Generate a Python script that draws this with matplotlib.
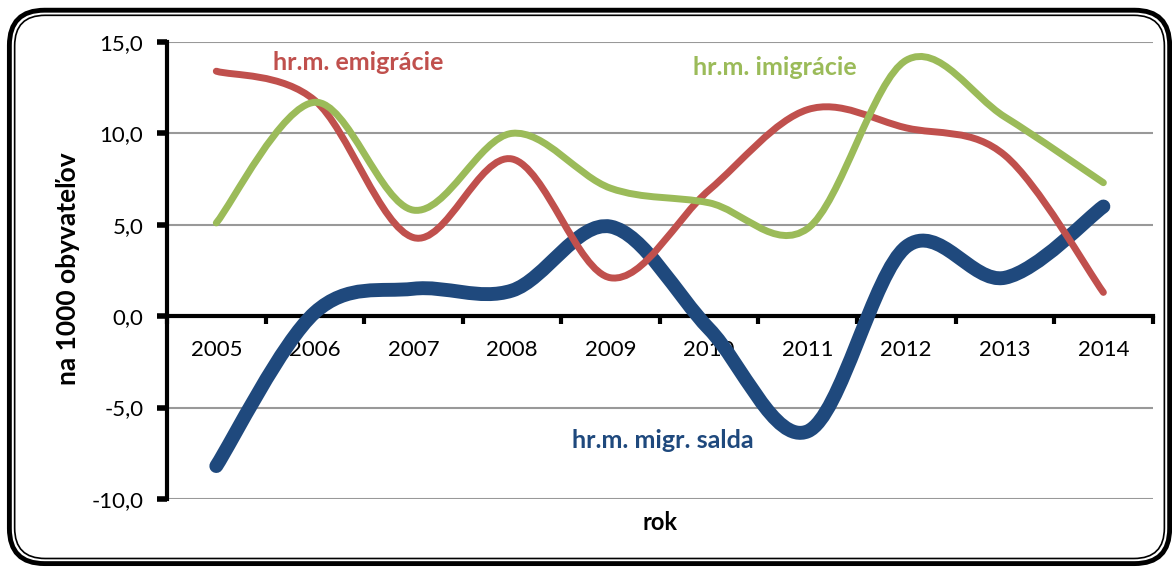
import numpy as np
import matplotlib
matplotlib.use("Agg")
import matplotlib.pyplot as plt
from matplotlib.path import Path
from matplotlib.patches import PathPatch, FancyBboxPatch

plt.rcParams['font.family'] = ['Lato', 'DejaVu Sans']

years = ['2005', '2006', '2007', '2008', '2009', '2010', '2011', '2012', '2013', '2014']
emigracia = [13.4, 11.8, 4.3, 8.6, 2.1, 6.9, 11.3, 10.3, 8.8, 1.3]
imigracia = [5.1, 11.7, 5.8, 10.0, 7.0, 6.2, 4.8, 14.0, 10.9, 7.3]
saldo = [-8.2, 0.2, 1.5, 1.4, 4.9, -0.7, -6.3, 3.8, 2.1, 6.0]
y_ticks = [-10, -5, 0, 5, 10, 15]


def smooth_path(xs, ys):
    # bezier control points like the Excel "smoothed line" option
    pts = np.column_stack([xs, ys]).astype(float)
    n = len(pts)
    verts = [pts[0]]
    codes = [Path.MOVETO]
    for i in range(n - 1):
        p_prev = pts[i - 1] if i > 0 else pts[i]
        p_next = pts[i + 2] if i + 2 < n else pts[i + 1]
        c1 = pts[i] + (pts[i + 1] - p_prev) / 6.0
        c2 = pts[i + 1] - (p_next - pts[i]) / 6.0
        verts += [c1, c2, pts[i + 1]]
        codes += [Path.CURVE4] * 3
    return Path(verts, codes)


fig = plt.figure(figsize=(11.72, 5.67), dpi=100)
ax = fig.add_axes([0.1425, 0.12, 0.841, 0.806])

x = np.arange(len(years))
series = [
    (saldo, '#1F497D', 10),
    (emigracia, '#C0504D', 5),
    (imigracia, '#9BBB59', 5),
]
for vals, col, lw in series:
    patch = PathPatch(smooth_path(x, vals), facecolor='none', edgecolor=col,
                      lw=lw, capstyle='round', joinstyle='round', zorder=3)
    ax.add_patch(patch)

ax.set_xlim(-0.5, len(years) - 0.5)
ax.set_ylim(-10, 15)
ax.set_yticks(y_ticks)
ax.set_yticklabels([f"{v:.1f}".replace('.', ',') for v in y_ticks], fontsize=16)
ax.yaxis.grid(True, color='#999999', lw=1.5)
ax.set_axisbelow(True)

for s in ['top', 'right']:
    ax.spines[s].set_visible(False)
ax.spines['left'].set_linewidth(3)
ax.spines['bottom'].set_linewidth(3)
ax.spines['bottom'].set_position(('data', 0))
ax.spines['bottom'].set_zorder(2)

ax.tick_params(axis='y', direction='out', length=7, width=4, pad=10)
ax.set_xticks(np.arange(-0.5, len(years), 1.0))
ax.set_xticklabels([])
ax.tick_params(axis='x', which='major', direction='out', length=6, width=3)
ax.set_xticks(x, minor=True)
ax.set_xticklabels(years, minor=True, fontsize=16)
ax.tick_params(axis='x', which='minor', length=0, pad=17)

ax.text(1.44, 13.85, 'hr.m. emigrácie', color='#C0504D', fontsize=18,
        fontweight='bold', ha='center', va='center')
ax.text(5.67, 13.6, 'hr.m. imigrácie', color='#9BBB59', fontsize=18,
        fontweight='bold', ha='center', va='center')
ax.text(4.53, -6.8, 'hr.m. migr. salda', color='#1F497D', fontsize=18,
        fontweight='bold', ha='center', va='center')

fig.text(0.058, 0.527, 'na 1000 obyvateľov', rotation=90, fontsize=19,
         fontweight='bold', ha='center', va='center')
fig.text(0.563, 0.078, 'rok', fontsize=17, fontweight='bold',
         ha='center', va='center')

# rounded double border around the chart
outer = FancyBboxPatch((0.008, 0.006), 0.990, 0.976,
                       boxstyle='round,pad=0,rounding_size=0.03',
                       transform=fig.transFigure, fill=False, lw=3.5,
                       ec='black', mutation_aspect=1172 / 567)
inner = FancyBboxPatch((0.0125, 0.015), 0.981, 0.958,
                       boxstyle='round,pad=0,rounding_size=0.026',
                       transform=fig.transFigure, fill=False, lw=1.2,
                       ec='black', mutation_aspect=1172 / 567)
fig.patches.extend([outer, inner])

fig.savefig('out.png', dpi=100)
